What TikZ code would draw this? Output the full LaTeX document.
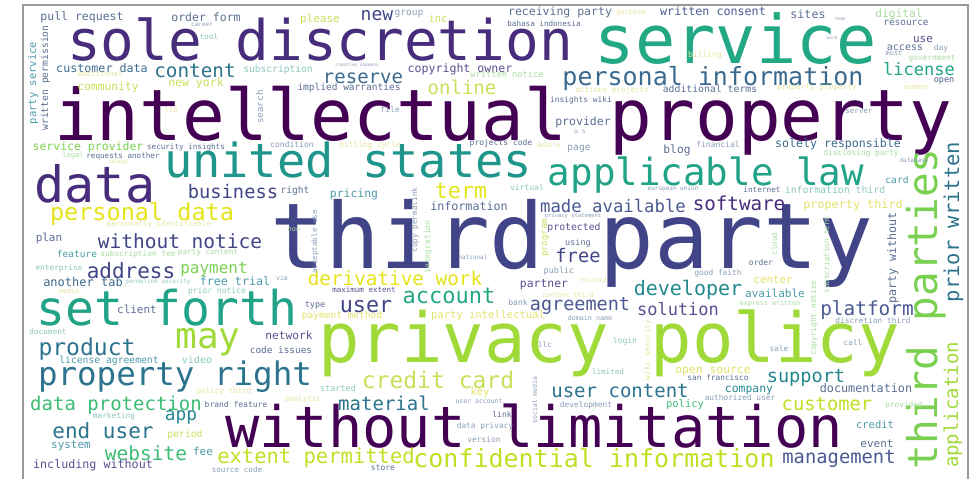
\documentclass[tikz,border=0pt]{standalone}
\usepackage{fontspec}
\newfontfamily\wc{DejaVu Sans Mono}
% viridis-like palette
\definecolor{vA}{HTML}{440154}
\definecolor{vB}{HTML}{472D7B}
\definecolor{vC}{HTML}{414487}
\definecolor{vCl}{HTML}{4B5A92}
\definecolor{vP}{HTML}{5A4F92}
\definecolor{vD}{HTML}{3B6A8E}
\definecolor{vDm}{HTML}{2C738E}
\definecolor{vE}{HTML}{23888E}
\definecolor{vF}{HTML}{22A884}
\definecolor{vFt}{HTML}{20A386}
\definecolor{vU}{HTML}{1F968B}
\definecolor{vG}{HTML}{3DBC74}
\definecolor{vGl}{HTML}{7AD151}
\definecolor{vH}{HTML}{A0DA39}
\definecolor{vHl}{HTML}{C2DF23}
\definecolor{vI}{HTML}{E5E419}
\definecolor{sB}{HTML}{5B6E94}
\definecolor{sBl}{HTML}{8A9EB8}
\definecolor{sT}{HTML}{4C9AA8}
\definecolor{sTl}{HTML}{8CC8BE}
\definecolor{sGl}{HTML}{A8DCA0}
\definecolor{sY}{HTML}{E3E26A}
\definecolor{sYl}{HTML}{E8E4A0}
\definecolor{sYG}{HTML}{C8E05A}
\definecolor{frame}{HTML}{9A9A9A}
\tikzset{wd/.style={anchor=base,inner sep=0pt,outer sep=0pt}}
% horizontal and vertical words: name, x, baseline, size, colour, text
\newcommand\wh[6]{\node[wd,text=#5,font=\fontsize{#4}{#4}\wc] (#1) at (#2,#3) {#6};}
\newcommand\wv[6]{\node[wd,rotate=90,text=#5,font=\fontsize{#4}{#4}\wc] (#1) at (#2,#3) {#6};}
\begin{document}
\begin{tikzpicture}[x=1pt,y=-1pt]
\useasboundingbox[fill=white] (0,0) rectangle (977,479);
\draw[frame,line width=1.3pt] (23,479) -- (23,5) -- (968,5) -- (968,479);
% large words
\wh{w1}{503}{140}{71}{vA}{intellectual property}
\wh{w2}{320}{60}{56}{vB}{sole discretion}
\wh{w3}{736}{63}{67}{vF}{service}
\wh{w4}{572}{268}{91}{vC}{third party}
\wh{w5}{609}{362}{69}{vH}{privacy policy}
\wh{w6}{534}{447}{57}{vA}{without limitation}
\wh{w7}{348}{177}{47}{vU}{united states}
\wh{w8}{167}{325}{48}{vFt}{set forth}
\wh{w9}{95}{202}{50}{vB}{data}
\wh{w10}{706}{185}{37.5}{vFt}{applicable law}
\wh{w11}{175}{385}{32.5}{vDm}{property right}
\wv{w12}{937}{309}{41}{vGl}{third parties}
\wh{w13}{208}{348}{36}{vH}{may}
\wh{w14}{713}{85}{25}{vD}{personal information}
\wh{w15}{594}{467}{25}{vHl}{confidential information}
\wh{w16}{142}{220}{23.5}{vI}{personal data}
\wh{w17}{438}{388}{23}{sYG}{credit card}
\wh{w18}{87}{355}{23}{vDm}{product}
\wh{w19}{449}{303}{22}{vF}{account}
\wh{w20}{461}{198}{21.7}{vI}{term}
\wh{w21}{366}{312}{21.7}{vC}{user}
\wh{w22}{131}{278}{21}{vC}{address}
\wh{w23}{103}{438}{21}{vDm}{end user}
\wh{w24}{316}{463}{20.5}{vHl}{extent permitted}
\wv{w25}{959}{222}{20.5}{vDm}{prior written}
\wh{w26}{688}{295}{20}{vE}{developer}
\wh{w27}{180}{248}{19.5}{vC}{without notice}
\wh{w28}{146}{460}{19.5}{vG}{website}
\wh{w29}{116}{410}{19}{vG}{data protection}
\wh{w30}{867}{315}{19.4}{vCl}{platform}
\wh{w31}{395}{285}{19.3}{vI}{derivative work}
\wh{w32}{739}{210}{19.2}{vB}{software}
\wh{w33}{363}{83}{19}{vD}{reserve}
\wh{w34}{384}{410}{19}{vDm}{material}
\wh{w35}{462}{94}{19}{sYG}{online}
\wv{w36}{958}{405}{19}{vH}{application}
\wh{w37}{620}{397}{19}{vDm}{user content}
\wh{w38}{195}{77}{19.3}{vDm}{content}
\wh{w39}{827}{410}{18.8}{vHl}{customer}
\wh{w40}{839}{463}{18.8}{vCl}{management}
\wh{w41}{233}{198}{18.7}{vC}{business}
\wh{w42}{578}{262}{18.7}{vC}{free}
\wh{w43}{806}{382}{18.6}{vE}{support}
\wh{w44}{580}{310}{18.5}{vCl}{agreement}
\wh{w45}{377}{20}{18}{vC}{new}
\wh{w46}{181}{420}{17.8}{vE}{app}
\wh{w47}{613}{212}{17.3}{vCl}{made available}
\wh{w48}{919}{75}{17}{vFt}{license}
\wh{w49}{678}{315}{17}{vP}{solution}
\wh{w50}{214}{273}{16}{vGl}{payment}
% medium words
\wh{w51}{235}{285}{11.7}{sT}{free trial}
\wh{w52}{83}{286}{12}{vD}{another tab}
\wh{w53}{102}{72}{11.7}{vD}{customer data}
\wh{w54}{713}{16}{11.7}{vCl}{written consent}
\wh{w55}{49}{241}{11}{sB}{plan}
\wh{w56}{469}{210}{11.7}{sB}{information}
\wh{w57}{93}{468}{11.7}{vP}{including without}
\wh{w58}{853}{208}{11.8}{sY}{property third}
\wh{w59}{866}{392}{11.8}{sB}{documentation}
\wv{w60}{896}{258}{11.7}{sB}{party without}
\wh{w61}{838}{147}{11.6}{vD}{solely responsible}
\wh{w62}{460}{72}{11.6}{vP}{copyright owner}
\wh{w63}{71}{448}{11}{sT}{system}
\wh{w64}{82}{20}{11.5}{sB}{pull request}
\wh{w65}{206}{21}{11.5}{sB}{order form}
\wh{w66}{196}{86}{11.5}{sYG}{new york}
\wh{w67}{88}{150}{11.5}{vGl}{service provider}
\wh{w68}{560}{16}{11.5}{sB}{receiving party}
\wh{w69}{583}{125}{11.5}{sB}{provider}
\wh{w70}{354}{197}{11.4}{sT}{pricing}
\wh{w71}{544}{287}{11.4}{vP}{partner}
\wh{w72}{749}{392}{11.4}{vE}{company}
\wh{w73}{713}{373}{11.4}{sY}{open source}
\wh{w74}{108}{90}{11.3}{sYG}{community}
\wh{w75}{677}{153}{11.3}{sB}{blog}
\wh{w76}{899}{17}{11.2}{sGl}{digital}
\wh{w77}{289}{339}{11.2}{vP}{network}
\wh{w78}{808}{18}{11.7}{sB}{sites}
\wh{w79}{923}{42}{11}{vP}{use}
\wh{w80}{775}{297}{11}{sT}{available}
\wh{w81}{137}{313}{11}{sB}{client}
\wh{w82}{320}{23}{11}{sYG}{please}
\wh{w83}{773}{283}{10.8}{sY}{center}
\wh{w84}{480}{395}{10.5}{sY}{key}
\wh{w85}{438}{22}{10.5}{sYG}{inc}
\wv{w86}{36}{83}{10.5}{sT}{party service}
\wh{w87}{488}{318}{10.5}{sY}{party intellectual}
\wh{w88}{203}{455}{11}{sT}{fee}
\wh{w89}{875}{428}{10.5}{sT}{credit}
\wh{w90}{877}{447}{11}{sB}{event}
\wh{w91}{685}{407}{10.5}{vG}{policy}
\wh{w92}{905}{50}{10}{sB}{access}
\wh{w93}{574}{230}{9.8}{vP}{protected}
\wh{w94}{835}{193}{9.8}{sTl}{information third}
\wh{w95}{710}{92}{9.8}{sB}{additional terms}
\wh{w96}{109}{363}{9.7}{sT}{license agreement}
\wv{w97}{48}{78}{9.7}{sB}{written permission}
\wh{w98}{197}{363}{10}{sTl}{video}
\wh{w99}{185}{437}{9.7}{sYG}{period}
\wh{w100}{897}{183}{9.6}{sT}{card}
\wh{w101}{278}{72}{9.6}{sTl}{subscription}
\wh{w102}{342}{318}{9.5}{sY}{payment method}
\wh{w103}{349}{90}{9.5}{sB}{implied warranties}
\wh{w104}{77}{257}{9.5}{sT}{feature}
\wh{w105}{409}{15}{9.5}{sBl}{group}
\wh{w106}{906}{25}{9.4}{sB}{resource}
\wh{w107}{281}{353}{9.4}{sB}{code issues}
\wh{w108}{579}{150}{9.6}{sBl}{page}
\wv{w109}{263}{107}{9.2}{sBl}{search}
\wh{w110}{507}{77}{8.7}{sGl}{written notice}
\wh{w111}{295}{193}{9.5}{sB}{right}
\wh{w112}{315}{307}{8.5}{sB}{type}
\wh{w113}{578}{245}{8.5}{sB}{using}
\wh{w114}{559}{273}{8.5}{sBl}{public}
\wh{w115}{338}{391}{8.5}{sTl}{started}
\wv{w116}{547}{238}{9}{sYG}{program}
% small words
\wh{w117}{217}{293}{8}{sTl}{prior notice}
\wh{w118}{292}{147}{8}{sBl}{condition}
\wh{w119}{501}{145}{8}{sB}{projects code}
\wh{w120}{390}{112}{8}{sBl}{file}
\wh{w121}{236}{407}{8}{sB}{brand feature}
\wh{w122}{718}{147}{8}{sBl}{financial}
\wh{w123}{527}{190}{8}{sTl}{virtual}
\wh{w124}{518}{305}{8}{sBl}{bank}
\wh{w125}{383}{470}{8}{sB}{store}
\wh{w126}{502}{417}{8}{sB}{link}
\wh{w127}{625}{343}{8}{sTl}{login}
\wh{w128}{761}{265}{8}{sB}{order}
\wh{w129}{941}{50}{8}{sBl}{day}
\wh{w130}{581}{102}{7.9}{sB}{insights wiki}
\wh{w131}{586}{407}{7.9}{sBl}{development}
\wh{w132}{484}{442}{7.9}{sBl}{version}
\wh{w133}{861}{155}{7.8}{sGl}{disclosing party}
\wh{w134}{186}{149}{7.6}{sB}{security insights}
\wh{w135}{123}{158}{7.6}{sB}{requests another}
\wh{w136}{48}{334}{7.7}{sTl}{document}
\wh{w137}{114}{418}{7.8}{sTl}{marketing}
\wh{w138}{138}{256}{7.8}{sGl}{subscription fee}
\wh{w139}{208}{254}{7.7}{sGl}{party content}
\wh{w140}{59}{270}{7.8}{sTl}{enterprise}
\wh{w141}{370}{147}{7.8}{sYl}{billing cycle}
\wh{w142}{485}{428}{7.8}{sBl}{data privacy}
\wh{w143}{718}{380}{7.8}{sB}{san francisco}
\wh{w144}{740}{400}{7.8}{sBl}{authorized user}
\wh{w145}{873}{323}{7.8}{sBl}{discretion third}
\wh{w146}{853}{345}{7.7}{sBl}{call}
\wh{w147}{779}{351}{7.7}{sBl}{sale}
\wh{w148}{904}{407}{7.7}{sGl}{provided}
\wh{w149}{817}{89}{7.8}{sYl}{property property}
\wh{w150}{932}{60}{7.8}{sGl}{government}
\wv{w151}{317}{242}{7.5}{sBl}{acceptable use}
\wv{w152}{417}{220}{7.7}{sBl}{copy permalink}
\wv{w153}{430}{247}{8}{sGl}{integration}
\wv{w154}{829}{255}{7.5}{sGl}{subscription term}
\wv{w155}{777}{244}{7.5}{sGl}{cloud}
\wv{w156}{816}{318}{7.8}{sGl}{copyright notice}
\wv{w157}{650}{350}{7.7}{sYl}{wiki security}
\wv{w158}{537}{400}{6.4}{sBl}{social media}
\wh{w159}{100}{76}{7.5}{sYl}{additional}
\wh{w160}{159}{226}{7.5}{sYl}{personally identifiable}
\wh{w161}{364}{292}{7.5}{vP}{maximum extent}
\wh{w162}{612}{92}{7.6}{sYl}{actions projects}
\wh{w163}{544}{26}{7.6}{sB}{bahasa indonesia}
\wh{w164}{859}{113}{7.5}{sBl}{server}
\wh{w165}{762}{192}{7.7}{sB}{internet}
\wh{w166}{718}{275}{7.8}{sBl}{good faith}
\wh{w167}{770}{305}{6.7}{sGl}{express written}
\wh{w168}{568}{297}{6.5}{sYl}{content third}
\wh{w169}{590}{320}{6.7}{sBl}{domain name}
\wh{w170}{673}{190}{6}{sBl}{european union}
\wh{w171}{573}{217}{5.5}{sBl}{privacy statement}
\wh{w172}{593}{282}{6.5}{sYl}{related}
\wh{w173}{608}{374}{7.5}{sTl}{limited}
\wh{w174}{545}{347}{7.5}{sBl}{llc}
\wh{w175}{171}{112}{7}{sYl}{ltd}
\wh{w176}{73}{157}{7}{sGl}{legal}
\wh{w177}{119}{163}{6}{sYl}{usage}
\wh{w178}{69}{293}{6.5}{sYl}{media}
\wh{w179}{158}{283}{6}{sTl}{permalink security}
\wh{w180}{202}{26}{6}{sBl}{career}
\wh{w181}{209}{39}{7.5}{sTl}{tool}
\wh{w182}{631}{14}{7}{sYl}{purpose}
\wh{w183}{705}{57}{8}{sYl}{billing}
\wh{w184}{580}{133}{6.5}{sBl}{u s}
\wh{w185}{549}{147}{6.5}{sYl}{mobile}
\wh{w186}{894}{55}{7}{sBl}{must}
\wh{w187}{916}{89}{7}{sYl}{number}
\wh{w188}{944}{82}{8.5}{vCl}{open}
\wh{w189}{840}{20}{4.5}{sBl}{team}
\wh{w190}{832}{39}{4.5}{sBl}{work}
\wh{w191}{357}{66}{4.5}{sBl}{creative commons}
\wh{w192}{473}{259}{6}{sBl}{national}
\wh{w193}{282}{280}{6.5}{sBl}{via}
\wh{w194}{294}{231}{7}{sGl}{non}
\wh{w195}{303}{401}{7.5}{sYl}{analytic}
\wh{w196}{479}{403}{6.5}{sBl}{user account}
\wh{w197}{224}{393}{7.5}{sYl}{policy third}
\wh{w198}{237}{472}{7.6}{sBl}{source code}
\wh{w199}{914}{162}{6}{sBl}{database}
\end{tikzpicture}
\end{document}
